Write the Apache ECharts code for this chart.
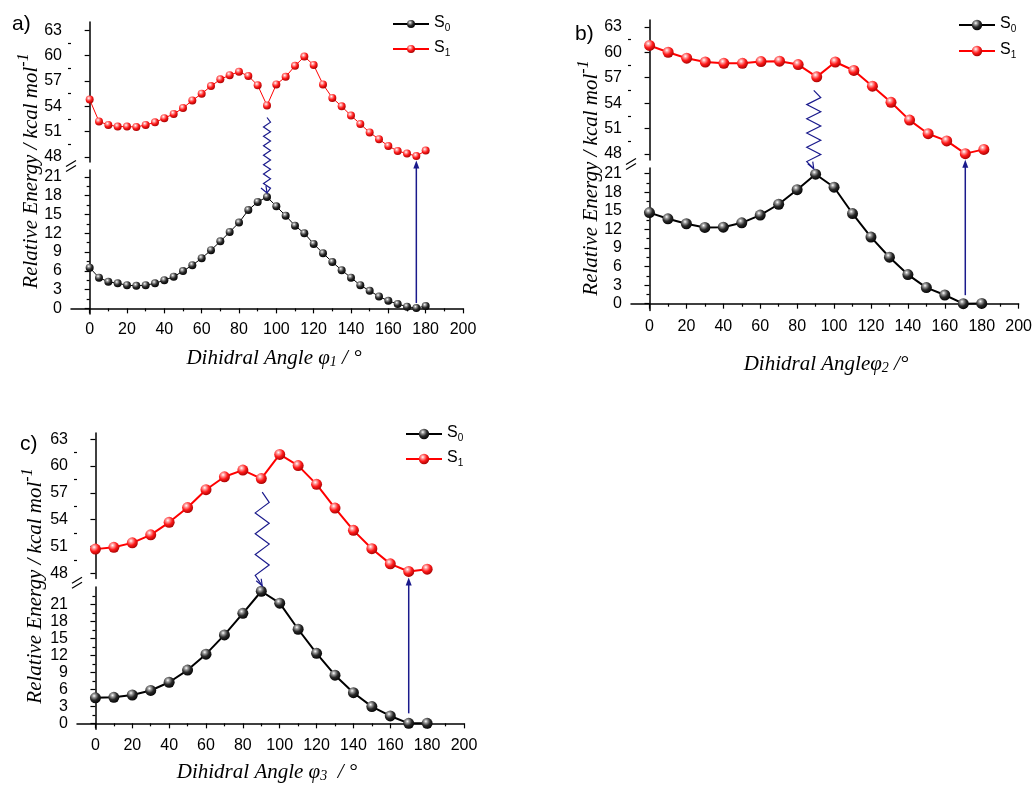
<!DOCTYPE html>
<html>
<head>
<meta charset="utf-8">
<script src="https://cdn.jsdelivr.net/npm/echarts@6/dist/echarts.min.js"></script>
<style>
html, body { margin: 0; padding: 0; background: #fff; }
#charts { width: 1035px; height: 785px; }
</style>
</head>
<body>
<div id="charts"></div>
<script>
// dihedral angles
var angA = [0,5,10,15,20,25,30,35,40,45,50,55,60,65,70,75,80,85,90,95,100,105,110,115,120,125,130,135,140,145,150,155,160,165,170,175,180];
var angBC = [0,10,20,30,40,50,60,70,80,90,100,110,120,130,140,150,160,170,180];

// a) phi1
var s0A = [6.5,4.9,4.25,4.0,3.7,3.6,3.7,4.0,4.5,5.05,5.95,6.9,8.0,9.3,10.7,12.2,13.7,15.7,17.0,17.8,16.3,14.8,13.2,12.0,10.3,8.8,7.4,6.1,4.9,3.7,2.8,1.9,1.2,0.7,0.27,0.05,0.37];
var s1A = [54.8,52.2,51.8,51.6,51.6,51.55,51.8,52.1,52.6,53.1,53.8,54.7,55.5,56.4,57.2,57.7,58.1,57.6,56.5,54.1,56.6,57.5,58.8,59.9,58.9,56.6,55.0,54.0,52.9,51.9,50.9,50.1,49.3,48.7,48.4,48.1,48.75];

// b) phi2
var s0B = [14.7,13.7,12.9,12.3,12.35,13.05,14.3,16.05,18.4,20.9,18.8,14.55,10.75,7.5,4.7,2.6,1.4,0,0.05];
var s1B = [60.8,60.0,59.3,58.85,58.7,58.7,58.9,58.95,58.55,57.1,58.85,57.85,56.0,54.1,52.0,50.4,49.55,48.05,48.55];

// c) phi3
var s0C = [4.5,4.6,5.0,5.8,7.25,9.4,12.2,15.6,19.4,23.3,21.2,16.6,12.35,8.5,5.4,2.95,1.3,0,0];
var s1C = [50.7,50.9,51.4,52.3,53.7,55.35,57.35,58.8,59.55,58.6,61.3,60.05,57.95,55.3,52.8,50.75,49.05,48.2,48.45];

// ticks
var xTicks = [0,20,40,60,80,100,120,140,160,180,200];
var xMinor = [10,30,50,70,90,110,130,150,170,190];
var lowTicks = [0,3,6,9,12,15,18,21];
var lowMinor = [1.5,4.5,7.5,10.5,13.5,16.5,19.5,22.5];
var upTicks = [48,51,54,57,60,63];
var upMinor = [49.5,52.5,55.5,58.5,61.5];

var panels = [
    {tag: 'a)', ang: angA, s0: s0A, s1: s1A,
     left: 71, width: 392,
     up: {top: 22, height: 140, min: 47.4, max: 64},
     low: {top: 170, height: 144, min: -0.9, max: 22.1},
     sym: 8, lw: 1,
     legend: {left: 392, top: 15, gap: 7, ih: 10},
     letter: [12, 24], ytitle: [29, 171], xtitle: [274, 356],
     xtext: '{i|Dihidral Angle }{i|φ}{sb|1}{i| / °}',
     arrowX: 175, arrowGap: 1, zigX: 95, zigAmp: 3.5, zigN: 16},
    {tag: 'b)', ang: angBC, s0: s0B, s1: s1B,
     left: 631, width: 390,
     up: {top: 20, height: 140, min: 47.3, max: 63.8},
     low: {top: 168, height: 142.5, min: -1.1, max: 21.9},
     sym: 11, lw: 2,
     legend: {left: 958, top: 16, gap: 8, ih: 13},
     letter: [575, 34], ytitle: [589, 178], xtitle: [826, 362],
     xtext: '{i|Dihidral Angle}{i|φ}{sb|2}{i| /°}',
     arrowX: 170, arrowGap: 3, zigX: 89, zigAmp: 7, zigN: 11},
    {tag: 'c)', ang: angBC, s0: s0C, s1: s1C,
     left: 77, width: 387,
     up: {top: 433, height: 145.6, min: 47.4, max: 63.7},
     low: {top: 587, height: 142.3, min: -1.05, max: 24.05},
     sym: 11, lw: 2,
     legend: {left: 405, top: 425, gap: 7, ih: 13},
     letter: [20, 444], ytitle: [33, 586], xtitle: [267, 770],
     xtext: '{i|Dihidral Angle }{i|φ}{sb|3}{i|  / °}',
     arrowX: 170, arrowGap: 4.5, zigX: 90.5, zigAmp: 7, zigN: 9}
];

var navy = '#1a1a8c';
var sans = 'Liberation Sans';
var serif = 'Liberation Serif';

function ball(main, dark) {
    return {
        type: 'radial', x: 0.38, y: 0.32, r: 0.72,
        colorStops: [
            {offset: 0, color: '#ffffff'},
            {offset: 0.22, color: main === '#000' ? '#9a9a9a' : '#ff9a9a'},
            {offset: 0.55, color: main === '#000' ? '#2a2a2a' : '#ff1a1a'},
            {offset: 1, color: dark}
        ]
    };
}

function inRange(vals, min, max) {
    return vals.filter(function (v) { return v >= min && v <= max; });
}

var grid = [], xAxis = [], yAxis = [], series = [], legend = [];

panels.forEach(function (p, k) {
    grid.push({left: p.left, width: p.width, top: p.up.top, height: p.up.height});
    grid.push({left: p.left, width: p.width, top: p.low.top, height: p.low.height});

    // x axes: hidden (upper), main + minor (lower)
    xAxis.push({gridIndex: 2 * k, type: 'value', min: -10, max: 200, show: false});
    xAxis.push({
        gridIndex: 2 * k + 1, type: 'value', min: -10, max: 200, position: 'bottom',
        axisLine: {lineStyle: {color: '#000', width: 1.5}},
        axisTick: {customValues: xTicks, length: 5, lineStyle: {color: '#000', width: 1.2}},
        axisLabel: {customValues: xTicks, color: '#000', fontSize: 16, fontFamily: sans, margin: 8},
        splitLine: {show: false}
    });
    xAxis.push({
        gridIndex: 2 * k + 1, type: 'value', min: -10, max: 200, position: 'bottom',
        axisLine: {show: false},
        axisTick: {customValues: xMinor, length: 3, lineStyle: {color: '#000', width: 1.2}},
        axisLabel: {show: false}, splitLine: {show: false}
    });

    // y axes: upper main + minor, lower main + minor
    [[p.up, upTicks, upMinor, 2 * k], [p.low, lowTicks, lowMinor, 2 * k + 1]].forEach(function (d) {
        var r = d[0];
        yAxis.push({
            gridIndex: d[3], type: 'value', min: r.min, max: r.max, position: 'left',
            axisLine: {show: true, lineStyle: {color: '#000', width: 1.5}},
            axisTick: {customValues: inRange(d[1], r.min, r.max), length: 5, lineStyle: {color: '#000', width: 1.2}},
            axisLabel: {customValues: inRange(d[1], r.min, r.max), color: '#000', fontSize: 16, fontFamily: sans, margin: 9},
            splitLine: {show: false}
        });
        yAxis.push({
            gridIndex: d[3], type: 'value', min: r.min, max: r.max, position: 'left',
            axisLine: {show: false},
            axisTick: {customValues: inRange(d[2], r.min, r.max), length: 3, lineStyle: {color: '#000', width: 1.2}},
            axisLabel: {show: false}, splitLine: {show: false}
        });
    });

    series.push({
        type: 'line', name: 'S0' + k, xAxisIndex: 3 * k + 1, yAxisIndex: 4 * k + 2,
        data: p.ang.map(function (a, i) { return [a, p.s0[i]]; }),
        symbol: 'circle', symbolSize: p.sym, showAllSymbol: true,
        lineStyle: {color: '#000', width: p.lw},
        itemStyle: {color: ball('#000', '#000000')},
        z: 3
    });
    series.push({
        type: 'line', name: 'S1' + k, xAxisIndex: 3 * k, yAxisIndex: 4 * k,
        data: p.ang.map(function (a, i) { return [a, p.s1[i]]; }),
        symbol: 'circle', symbolSize: p.sym, showAllSymbol: true,
        lineStyle: {color: '#ff0000', width: p.lw},
        itemStyle: {color: ball('#f00', '#a00000')},
        z: 3
    });

    legend.push({
        data: ['S0' + k, 'S1' + k], orient: 'vertical', padding: 0,
        left: p.legend.left, top: p.legend.top, itemGap: p.legend.gap,
        itemWidth: 36, itemHeight: p.legend.ih, selectedMode: false,
        formatter: function (n) { return '{s|S}{sb|' + n.charAt(1) + '}'; },
        textStyle: {
            color: '#000', fontFamily: sans, fontSize: 16,
            rich: {
                s: {fontSize: 16, fontFamily: sans, lineHeight: 18, verticalAlign: 'top', color: '#000'},
                sb: {fontSize: 10, fontFamily: sans, lineHeight: 8, verticalAlign: 'bottom', color: '#000'}
            }
        }
    });
});

var chart = echarts.init(document.getElementById('charts'));
chart.setOption({
    animation: false,
    backgroundColor: '#fff',
    grid: grid, xAxis: xAxis, yAxis: yAxis, series: series, legend: legend
});

// annotations: titles, broken-axis marks, arrows
var g = [];
var titleRich = {
    i: {fontFamily: serif, fontStyle: 'italic', fontSize: 21, lineHeight: 26, verticalAlign: 'bottom', color: '#000'},
    sb: {fontFamily: serif, fontStyle: 'italic', fontSize: 14, lineHeight: 10, verticalAlign: 'bottom', color: '#000'},
    sp: {fontFamily: serif, fontStyle: 'italic', fontSize: 16, lineHeight: 12, verticalAlign: 'top', color: '#000'}
};

panels.forEach(function (p, k) {
    function up(x, y) { return chart.convertToPixel({xAxisIndex: 3 * k, yAxisIndex: 4 * k}, [x, y]); }
    function low(x, y) { return chart.convertToPixel({xAxisIndex: 3 * k + 1, yAxisIndex: 4 * k + 2}, [x, y]); }

    g.push({type: 'text', x: p.letter[0], y: p.letter[1],
        style: {text: p.tag, fontFamily: sans, fontSize: 21, fill: '#000', align: 'left', verticalAlign: 'middle'}});
    g.push({type: 'text', x: p.ytitle[0], y: p.ytitle[1], rotation: Math.PI / 2,
        style: {text: '{i|Relative Energy / kcal mol}{sp|-1}', rich: titleRich, align: 'center', verticalAlign: 'middle'}});
    g.push({type: 'text', x: p.xtitle[0], y: p.xtitle[1],
        style: {text: p.xtext, rich: titleRich, align: 'center', verticalAlign: 'middle'}});

    // break marks on the y axis
    var bx = p.left, by = (p.up.top + p.up.height + p.low.top) / 2;
    [-2.5, 2.5].forEach(function (o) {
        g.push({type: 'line', shape: {x1: bx - 5, y1: by + o + 3, x2: bx + 5, y2: by + o - 3},
            style: {stroke: '#000', lineWidth: 1.2}});
    });

    // vertical excitation arrow
    var ia = p.ang.indexOf(p.arrowX);
    var r = p.sym / 2;
    var b = low(p.arrowX, p.s0[ia]);
    var t = up(p.arrowX, p.s1[ia]);
    var y0 = b[1] - r - p.arrowGap, y1 = t[1] + r + 0.5;
    g.push({type: 'line', shape: {x1: t[0], y1: y0, x2: t[0], y2: y1 + 6},
        style: {stroke: navy, lineWidth: 1.5}, z: 10});
    g.push({type: 'polygon', shape: {points: [[t[0], y1], [t[0] - 3, y1 + 8], [t[0] + 3, y1 + 8]]},
        style: {fill: navy}, z: 10});

    // wavy decay arrow between the S1 dip and the S0 peak
    var iz = p.ang.indexOf(Math.round(p.zigX / 5) * 5);
    if (iz < 0) iz = p.ang.indexOf(90);
    var zb = low(p.zigX, p.s0[iz]);
    var zt = up(p.zigX, p.s1[iz]);
    var yb = zb[1] - r, yt = zt[1] + r + 8;
    var pts = [[zb[0], yt]];
    for (var j = 1; j < p.zigN; j++) {
        var yy = yt + (yb - yt) * j / p.zigN;
        pts.push([zb[0] + (j % 2 ? p.zigAmp : -p.zigAmp), yy]);
    }
    pts.push([zb[0], yb]);
    g.push({type: 'polyline', shape: {points: pts}, style: {stroke: navy, lineWidth: 1.2, fill: null}, z: 10});
    g.push({type: 'polyline', shape: {points: [[zb[0] - 6, yb - 5], [zb[0], yb], [zb[0] - 1, yb - 7]]},
        style: {stroke: navy, lineWidth: 1.2, fill: null}, z: 10});
});

chart.setOption({graphic: g});
</script>
</body>
</html>
